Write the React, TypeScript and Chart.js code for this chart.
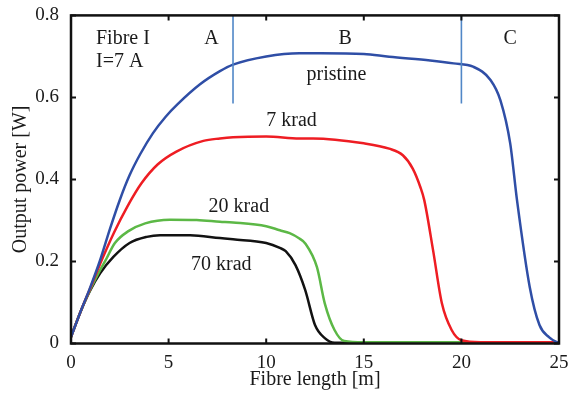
import React, { useEffect, useRef } from "react";
import { Chart, registerables } from "chart.js";

Chart.register(...registerables);

// Fibre length [m] and output power [W] per irradiation level
const pristineX = [0, 0.46, 0.97, 1.49, 2.0, 2.5, 3.0, 3.55, 4.2, 4.85, 5.45, 6.61, 7.63, 8.3, 10, 11.7, 12.8, 15, 16.3, 18.4, 19.6, 20.6, 21.5, 22, 22.5, 22.85, 23.5, 24, 24.5, 25];
const pristineY = [0.016, 0.074, 0.135, 0.203, 0.28, 0.35, 0.41, 0.462, 0.513, 0.553, 0.583, 0.632, 0.664, 0.68, 0.70, 0.708, 0.708, 0.706, 0.699, 0.69, 0.683, 0.675, 0.642, 0.593, 0.488, 0.349, 0.138, 0.045, 0.015, 0.0];

const krad7X = [0, 0.46, 0.97, 1.5, 2.2, 2.9, 3.6, 4.45, 5.4, 6.78, 7.63, 8.3, 10, 11.7, 12.4, 15, 16.3, 17, 17.5, 17.9, 18.1, 18.55, 19, 19.5, 20, 21, 25];
const krad7Y = [0.016, 0.074, 0.133, 0.195, 0.27, 0.335, 0.39, 0.437, 0.468, 0.494, 0.50, 0.503, 0.505, 0.50, 0.50, 0.488, 0.475, 0.459, 0.427, 0.381, 0.349, 0.227, 0.098, 0.033, 0.008, 0.003, 0.003];

const krad20X = [0, 0.46, 0.97, 1.49, 1.74, 2.25, 2.94, 3.8, 5.07, 6.44, 7.63, 8.3, 10, 10.7, 11.2, 11.7, 12.0, 12.6, 13.0, 13.5, 14.0, 15, 25];
const krad20Y = [0.016, 0.074, 0.13, 0.179, 0.2, 0.245, 0.274, 0.293, 0.302, 0.301, 0.297, 0.295, 0.286, 0.276, 0.269, 0.256, 0.244, 0.186, 0.098, 0.033, 0.006, 0.003, 0.003];

const krad70X = [0, 0.46, 0.97, 1.49, 2.17, 3.0, 3.88, 4.56, 6.1, 7.63, 8.3, 10, 10.7, 11.0, 11.5, 12.0, 12.5, 13.0, 13.5, 25];
const krad70Y = [0.016, 0.074, 0.128, 0.171, 0.211, 0.245, 0.26, 0.264, 0.264, 0.257, 0.254, 0.245, 0.233, 0.225, 0.191, 0.130, 0.045, 0.013, 0.002, 0.002];

// Region boundaries (A | B | C)
const boundaryX = [8.3, 20.0];
const boundaryY = [0.585, 0.8];

// Text annotations (data coordinates)
const labelTexts = ["Fibre I", "I=7 A", "A", "B", "C", "pristine", "7 krad", "20 krad", "70 krad"];
const labelX = [1.28, 1.28, 7.2, 14.05, 22.5, 13.6, 11.3, 8.6, 7.7];
const labelY = [0.743, 0.688, 0.743, 0.743, 0.743, 0.656, 0.544, 0.333, 0.192];
const labelAlign = ["left", "left", "center", "center", "center", "center", "center", "center", "center"];

const xTicks = [0, 5, 10, 15, 20, 25];
const yTicks = [0, 0.2, 0.4, 0.6, 0.8];

const SERIF = "'Liberation Serif', 'Times New Roman', serif";

const zip = (xs: number[], ys: number[]) => xs.map((x, i) => ({ x, y: ys[i] }));

const framePlugin = {
  id: "frame",
  afterDatasetsDraw(chart: any) {
    const { ctx, chartArea: a, scales } = chart;
    const xs = scales.x;
    const ys = scales.y;
    ctx.save();
    // Annotations
    ctx.fillStyle = "#1a1a1a";
    ctx.font = `20px ${SERIF}`;
    ctx.textBaseline = "middle";
    labelTexts.forEach((t, i) => {
      ctx.textAlign = labelAlign[i] as CanvasTextAlign;
      ctx.fillText(t, xs.getPixelForValue(labelX[i]), ys.getPixelForValue(labelY[i]));
    });
    // Box
    ctx.strokeStyle = "#111";
    ctx.lineWidth = 2.5;
    ctx.strokeRect(a.left, a.top, a.right - a.left, a.bottom - a.top);
    // Inward ticks
    const len = 5;
    ctx.lineWidth = 2;
    ctx.beginPath();
    xTicks.forEach((v) => {
      const p = xs.getPixelForValue(v);
      ctx.moveTo(p, a.bottom);
      ctx.lineTo(p, a.bottom - len);
      ctx.moveTo(p, a.top);
      ctx.lineTo(p, a.top + len);
    });
    yTicks.forEach((v) => {
      const p = ys.getPixelForValue(v);
      ctx.moveTo(a.left, p);
      ctx.lineTo(a.left + len, p);
      ctx.moveTo(a.right, p);
      ctx.lineTo(a.right - len, p);
    });
    ctx.stroke();
    ctx.restore();
  },
};

export default function App() {
  const ref = useRef<HTMLCanvasElement | null>(null);
  useEffect(() => {
    document.body.style.margin = "0";
    const lineDs = (label: string, xs: number[], ys: number[], color: string, width = 2.5, smooth = true) => ({
      label,
      data: zip(xs, ys),
      borderColor: color,
      backgroundColor: color,
      borderWidth: width,
      pointRadius: 0,
      fill: false,
      cubicInterpolationMode: (smooth ? "monotone" : "default") as any,
    });
    const chart = new Chart(ref.current!, {
      type: "line",
      data: {
        datasets: [
          lineDs("A|B", [boundaryX[0], boundaryX[0]], boundaryY, "#5087c7", 1.6, false),
          lineDs("B|C", [boundaryX[1], boundaryX[1]], boundaryY, "#5087c7", 1.6, false),
          lineDs("pristine", pristineX, pristineY, "#2f4ea6"),
          lineDs("7 krad", krad7X, krad7Y, "#ee1d23"),
          lineDs("20 krad", krad20X, krad20Y, "#5cb846"),
          lineDs("70 krad", krad70X, krad70Y, "#121212"),
        ],
      },
      options: {
        animation: false,
        responsive: false,
        layout: { padding: { top: 15, right: 12, left: 0, bottom: 0 } },
        plugins: { legend: { display: false }, tooltip: { enabled: false } },
        scales: {
          x: {
            type: "linear",
            min: 0,
            max: 25,
            afterBuildTicks: (s: any) => {
              s.ticks = xTicks.map((v) => ({ value: v }));
            },
            grid: { display: false },
            border: { display: false },
            ticks: {
              color: "#1a1a1a",
              font: { family: SERIF, size: 19 },
              padding: 0,
              maxRotation: 0,
              callback: (v: any) => String(v),
            },
            title: {
              display: true,
              text: "Fibre length [m]",
              color: "#1a1a1a",
              font: { family: SERIF, size: 20 },
              padding: { top: 0, bottom: 2 },
            },
            afterFit: (s: any) => {
              s.height = 50.5;
            },
          },
          y: {
            type: "linear",
            min: 0,
            max: 0.8,
            afterBuildTicks: (s: any) => {
              s.ticks = yTicks.map((v) => ({ value: v }));
            },
            grid: { display: false },
            border: { display: false },
            ticks: {
              color: "#1a1a1a",
              font: { family: SERIF, size: 19 },
              padding: 4,
              callback: (v: any) => (Number(v) === 0 ? "0" : Number(v).toFixed(1)),
            },
            title: {
              display: true,
              text: "Output power [W]",
              color: "#1a1a1a",
              font: { family: SERIF, size: 20 },
              padding: { top: 9, bottom: 0 },
            },
            afterFit: (s: any) => {
              s.width = 71;
            },
          },
        },
      },
      plugins: [framePlugin],
    });
    return () => chart.destroy();
  }, []);
  return (
    <div style={{ position: "fixed", left: 0, top: 0, width: 571, height: 394, background: "#fff" }}>
      <canvas ref={ref} width={571} height={394} />
    </div>
  );
}
